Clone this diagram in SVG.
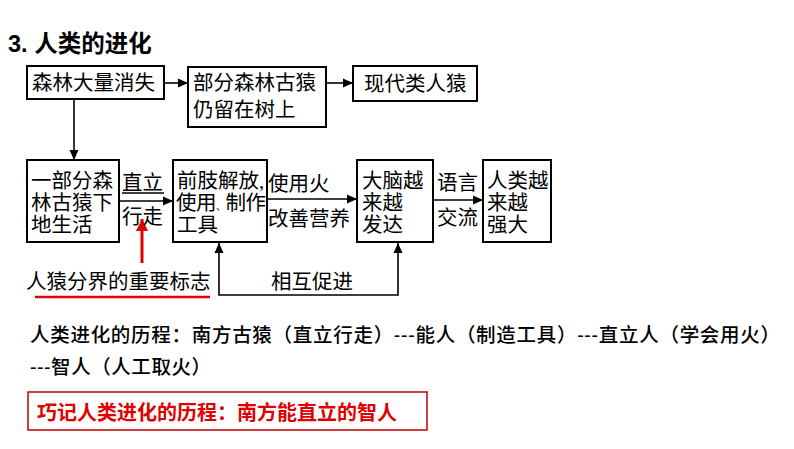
<svg xmlns="http://www.w3.org/2000/svg" width="794" height="449" viewBox="0 0 794 449">
<defs>
<style>
.box{fill:#fff;stroke:#000;stroke-width:2}
.t{font-family:"Liberation Serif","Noto Sans CJK SC",serif;font-size:20.5px;fill:#000}
.c{fill:none;stroke:#000;stroke-width:1.6}
.b{font-family:"Liberation Sans","Noto Sans CJK SC",sans-serif;font-size:19.5px;fill:#000;font-weight:500}
</style>
<marker id="ah" markerUnits="userSpaceOnUse" markerWidth="11" markerHeight="10" refX="10" refY="5" orient="auto-start-reverse"><path d="M0,0.5 L10,5 L0,9.5 z" fill="#000"/></marker>
<marker id="ahr" markerUnits="userSpaceOnUse" markerWidth="14" markerHeight="14" refX="12" refY="7" orient="auto"><path d="M0,1 L12,7 L0,13 z" fill="#e00000"/></marker>
</defs>
<rect width="794" height="449" fill="#fff"/>
<text x="8" y="52" font-family="Liberation Sans,'Noto Sans CJK SC',sans-serif" font-size="23.5" font-weight="bold">3. 人类的进化</text>

<g id="connectors">
<path class="c" d="M164,83 H188" marker-end="url(#ah)"/>
<path class="c" d="M326,83 H353" marker-end="url(#ah)"/>
<path class="c" d="M74,99 V160" marker-end="url(#ah)"/>
<path class="c" d="M119,201 H173" marker-end="url(#ah)"/>
<path class="c" d="M267,199 H357" marker-end="url(#ah)"/>
<path class="c" d="M433,200 H483" marker-end="url(#ah)"/>
<path class="c" d="M219,243 V295 H398 V243" marker-start="url(#ah)" marker-end="url(#ah)"/>
<path d="M122,193 H164" stroke="#000" stroke-width="1.5"/>
<path d="M142,263 V219" stroke="#e00000" stroke-width="3" marker-end="url(#ahr)"/>
</g>

<g id="n1"><rect class="box" x="27" y="66" width="137" height="33"/><text class="t" x="32" y="90">森林大量消失</text></g>
<g id="n2"><rect class="box" x="188" y="67" width="138" height="60"/><text class="t" x="193" y="90">部分森林古猿</text><text class="t" x="193" y="117">仍留在树上</text></g>
<g id="n3"><rect class="box" x="353" y="66" width="124" height="35"/><text class="t" x="364" y="91">现代类人猿</text></g>
<g id="n4"><rect class="box" x="27" y="160" width="92" height="82"/><text class="t" x="31" y="188">一部分森</text><text class="t" x="31" y="210">林古猿下</text><text class="t" x="31" y="232">地生活</text></g>
<g id="n5"><rect class="box" x="173" y="160" width="94" height="82"/><text class="t" x="177" y="188">前肢解放,</text><text class="t" x="176" y="210" letter-spacing="-0.5">使用<tspan font-size="10">、</tspan>制作</text><text class="t" x="177" y="232">工具</text></g>
<g id="n6"><rect class="box" x="357" y="160" width="76" height="82"/><text class="t" x="362" y="188">大脑越</text><text class="t" x="362" y="210">来越</text><text class="t" x="362" y="232">发达</text></g>
<g id="n7"><rect class="box" x="483" y="160" width="68" height="82"/><text class="t" x="487" y="188">人类越</text><text class="t" x="487" y="210">来越</text><text class="t" x="487" y="232">强大</text></g>

<g id="labels">
<text class="t" x="122" y="190">直立</text>
<text class="t" x="122" y="224">行走</text>
<text class="t" x="268" y="191">使用火</text>
<text class="t" x="268" y="226">改善营养</text>
<text class="t" x="437" y="190">语言</text>
<text class="t" x="437" y="225">交流</text>
<text class="t" x="271" y="289">相互促进</text>
<text class="t" x="26" y="289">人猿分界的重要标志</text>
<path d="M35,297 H210" stroke="#e00000" stroke-width="2.5"/>
</g>

<g id="notes">
<text class="b" x="30" y="342" textLength="750">人类进化的历程：南方古猿（直立行走）---能人（制造工具）---直立人（学会用火）</text>
<text class="b" x="30" y="374" textLength="181">---智人（人工取火）</text>
<rect x="28" y="392" width="399" height="38" fill="none" stroke="#c00000" stroke-width="1.5"/>
<text x="37" y="420" font-family="Liberation Sans,'Noto Sans CJK SC',sans-serif" font-size="20" font-weight="bold" fill="#e00000">巧记人类进化的历程：南方能直立的智人</text>
</g>
</svg>
